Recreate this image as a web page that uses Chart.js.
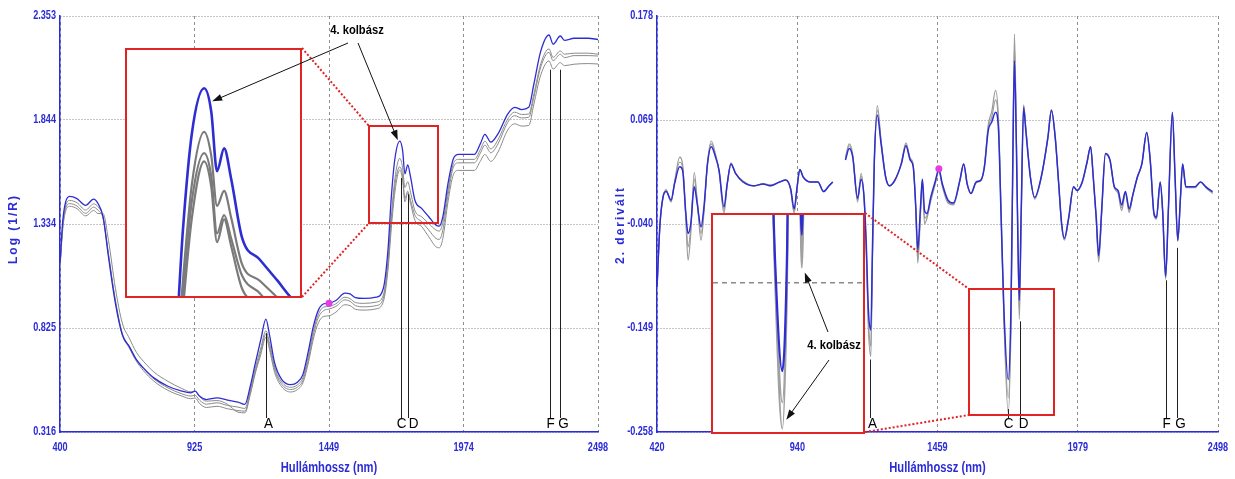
<!DOCTYPE html>
<html><head><meta charset="utf-8">
<script src="https://cdn.jsdelivr.net/npm/chart.js@4.4.0/dist/chart.umd.min.js"></script>
<style>
html,body{margin:0;padding:0;background:#fff;}
#wrap{position:relative;width:1235px;height:479px;overflow:hidden;background:#fff;}
#wrap canvas{position:absolute;}
.inset{position:absolute;background:#fff;border:2px solid #e02424;box-sizing:border-box;}
.inset canvas{left:0;top:0;}
</style></head><body>
<div id="wrap">
<canvas id="cL" width="620" height="479" style="left:0;top:0"></canvas>
<canvas id="cR" width="639" height="479" style="left:596px;top:0"></canvas>
<div class="inset" style="left:125px;top:48px;width:177px;height:250px"><canvas id="iL" width="173" height="246"></canvas></div>
<div class="inset" style="left:711px;top:213px;width:154px;height:221px"><canvas id="iR" width="150" height="217"></canvas></div>
<canvas id="ov" width="1235" height="479" style="left:0;top:0;pointer-events:none"></canvas>
</div>
<script>
// ---------------- LEFT PANEL DATA: Log(1/R) ----------------
const wlL = [400,411,422,438,466,500,531,548,568,589,616,643,670,698,725,766,821,875,910,927,944,971,1012,1053,1094,1121,1142,1162,1183,1203,1217,1237,1265,1299,1326,1347,1367,1388,1408,1429,1449,1476,1511,1531,1552,1586,1633,1661,1679,1692,1706,1725,1736,1745,1756,1767,1784,1811,1838,1866,1879,1893,1913,1934,1954,2016,2039,2057,2080,2108,2146,2173,2200,2228,2248,2275,2307,2323,2351,2367,2405,2460,2498];
const blueL = [1.142,1.353,1.443,1.470,1.459,1.426,1.456,1.435,1.369,1.174,0.947,0.792,0.735,0.670,0.630,0.581,0.540,0.516,0.508,0.516,0.492,0.475,0.483,0.472,0.462,0.451,0.540,0.654,0.768,0.869,0.792,0.654,0.573,0.548,0.560,0.597,0.703,0.833,0.914,0.944,0.947,0.960,0.996,0.992,0.974,0.970,0.976,1.020,1.207,1.467,1.654,1.740,1.695,1.580,1.624,1.565,1.451,1.410,1.370,1.329,1.324,1.370,1.532,1.654,1.675,1.675,1.727,1.773,1.735,1.776,1.873,1.906,1.895,1.906,2.020,2.182,2.260,2.215,2.255,2.234,2.244,2.244,2.238];
const gray1L = [1.134,1.337,1.423,1.450,1.439,1.403,1.433,1.419,1.369,1.190,0.963,0.800,0.735,0.670,0.627,0.576,0.532,0.503,0.492,0.496,0.472,0.452,0.459,0.446,0.438,0.431,0.520,0.630,0.727,0.812,0.751,0.634,0.560,0.535,0.547,0.581,0.679,0.809,0.894,0.928,0.931,0.944,0.976,0.969,0.950,0.946,0.952,0.987,1.150,1.369,1.556,1.656,1.610,1.513,1.542,1.490,1.400,1.369,1.337,1.305,1.300,1.341,1.499,1.630,1.651,1.651,1.698,1.740,1.702,1.747,1.849,1.882,1.871,1.873,1.971,2.120,2.192,2.150,2.182,2.166,2.171,2.171,2.166];
const gray2L = [1.126,1.324,1.410,1.434,1.423,1.387,1.417,1.402,1.361,1.182,0.955,0.792,0.727,0.662,0.617,0.565,0.520,0.492,0.479,0.483,0.456,0.436,0.442,0.430,0.421,0.418,0.507,0.613,0.711,0.796,0.735,0.621,0.549,0.524,0.536,0.568,0.662,0.792,0.878,0.911,0.918,0.931,0.963,0.956,0.935,0.929,0.935,0.971,1.134,1.345,1.524,1.615,1.570,1.460,1.495,1.450,1.378,1.345,1.305,1.264,1.259,1.305,1.475,1.613,1.634,1.634,1.681,1.721,1.683,1.727,1.832,1.865,1.854,1.857,1.955,2.104,2.175,2.134,2.166,2.149,2.159,2.159,2.157];
const gray3L = [1.118,1.312,1.397,1.421,1.410,1.374,1.401,1.386,1.385,1.255,1.020,0.849,0.776,0.706,0.663,0.610,0.564,0.529,0.513,0.516,0.489,0.467,0.470,0.452,0.413,0.410,0.499,0.605,0.695,0.780,0.719,0.608,0.537,0.512,0.524,0.556,0.646,0.771,0.852,0.882,0.885,0.903,0.939,0.935,0.917,0.913,0.919,0.955,1.109,1.313,1.491,1.599,1.550,1.443,1.487,1.435,1.353,1.321,1.272,1.223,1.218,1.264,1.443,1.576,1.597,1.597,1.642,1.675,1.641,1.687,1.795,1.825,1.814,1.817,1.922,2.065,2.133,2.093,2.125,2.110,2.117,2.120,2.118];
const xTicksL = [400,925,1449,1974,2498];
const xLabelsL = ['400','925','1449','1974','2498'];
const yTicksL = [0.316,0.825,1.334,1.844,2.353];
const yLabelsL = ['0.316','0.825','1.334','1.844','2.353'];
const markNamesL = ['A','C','D','F','G'];
const markWlL = [1203,1728,1757,2310,2351];
const markTopL = [0.800,1.560,1.480,2.090,2.090];
const pointL = [1449,0.947];
const zoomXL = [1605,1874];
const zoomYL = [1.339,1.814];
const arrowTargetL = [1725,1.740];

// ---------------- RIGHT PANEL DATA: 2nd derivative ----------------
const wlR = [420,431,442,454,472,485,504,515,526,535,545,558,569,583,594,607,621,637,650,668,680,694,711,739,779,813,840,874,897,915,928,939,949,962,989,1016,1037,1057,1071,1095,1118,1132,1145,1163,1176,1187,1195,1203,1212,1218,1225,1236,1250,1267,1281,1301,1325,1342,1358,1369,1378,1386,1396,1403,1411,1420,1434,1450,1464,1477,1498,1518,1542,1556,1569,1583,1602,1620,1633,1647,1660,1674,1685,1694,1705,1721,1731,1738,1744,1751,1757,1762,1769,1778,1786,1803,1819,1843,1868,1881,1895,1908,1919,1929,1945,1963,1976,1995,2013,2026,2036,2047,2056,2067,2081,2098,2114,2128,2141,2155,2169,2182,2199,2216,2234,2247,2261,2270,2284,2293,2304,2314,2329,2339,2349,2359,2367,2379,2413,2433,2453,2478];
const blueR = [-0.106,-0.040,-0.012,-0.006,-0.015,0.002,0.020,0.016,-0.026,-0.050,-0.040,-0.001,-0.019,-0.043,-0.022,0.023,0.041,0.030,0.016,-0.022,0.002,0.023,0.013,0.004,0.000,0.002,0.000,0.004,0.006,-0.003,-0.024,-0.001,0.017,0.009,0.004,0.004,-0.006,0.000,0.004,null,0.027,0.039,0.030,-0.013,0.007,-0.012,-0.060,-0.130,-0.151,-0.067,0.027,0.074,0.044,0.009,0.000,0.006,0.023,0.042,0.027,0.020,-0.019,-0.067,-0.022,0.007,-0.026,-0.029,-0.012,0.004,0.017,0.002,-0.015,-0.018,0.006,0.023,0.002,-0.008,0.004,0.006,0.020,0.058,0.067,0.077,0.058,-0.026,-0.130,-0.203,-0.130,0.027,0.131,0.044,-0.060,-0.120,-0.026,0.082,0.058,0.009,-0.012,0.009,0.051,0.079,0.051,0.002,-0.040,-0.055,-0.033,-0.001,-0.005,0.004,0.025,0.041,0.009,-0.033,-0.073,-0.026,0.034,0.027,-0.001,-0.005,-0.020,-0.006,-0.024,-0.010,0.009,0.023,0.056,0.027,-0.029,-0.033,0.004,-0.026,-0.095,-0.026,0.077,0.009,-0.057,-0.012,0.023,-0.001,-0.001,0.004,-0.001,-0.006];
const grayAR = [-0.110,-0.042,-0.013,-0.004,-0.017,0.004,0.030,0.022,-0.030,-0.078,-0.050,0.014,-0.015,-0.057,-0.028,0.024,0.047,0.033,0.015,-0.029,0.001,0.024,0.013,0.005,0.000,0.002,0.001,0.004,0.006,-0.004,-0.029,-0.002,0.017,0.009,0.004,0.004,-0.006,0.000,0.004,null,0.030,0.044,0.033,-0.017,0.013,-0.015,-0.070,-0.150,-0.179,-0.080,0.022,0.084,0.048,0.010,0.000,0.005,0.024,0.045,0.029,0.022,-0.022,-0.081,-0.030,0.005,-0.040,-0.034,-0.016,0.001,0.015,-0.001,-0.018,-0.020,0.005,0.023,0.001,-0.008,0.003,0.006,0.022,0.064,0.078,0.100,0.070,-0.020,-0.140,-0.238,-0.150,0.020,0.159,0.055,-0.055,-0.140,-0.040,0.085,0.062,0.010,-0.014,0.008,0.050,0.080,0.050,0.001,-0.042,-0.057,-0.034,-0.002,-0.004,0.003,0.024,0.041,0.008,-0.036,-0.080,-0.030,0.033,0.026,-0.002,-0.008,-0.026,-0.008,-0.028,-0.011,0.008,0.023,0.056,0.026,-0.031,-0.035,0.003,-0.028,-0.098,-0.028,0.076,0.008,-0.058,-0.013,0.022,-0.002,-0.002,0.004,-0.002,-0.008];
const grayBR = [-0.108,-0.041,-0.012,-0.005,-0.016,0.003,0.025,0.019,-0.028,-0.064,-0.045,0.007,-0.017,-0.050,-0.025,0.023,0.044,0.031,0.016,-0.026,0.002,0.023,0.013,0.004,0.000,0.002,0.000,0.004,0.006,-0.003,-0.027,-0.001,0.017,0.009,0.004,0.004,-0.006,0.000,0.004,null,0.028,0.042,0.031,-0.015,0.010,-0.013,-0.065,-0.140,-0.168,-0.072,0.025,0.079,0.046,0.009,0.000,0.006,0.023,0.043,0.028,0.021,-0.020,-0.075,-0.026,0.006,-0.034,-0.031,-0.014,0.003,0.016,0.001,-0.016,-0.019,0.006,0.023,0.002,-0.008,0.004,0.006,0.021,0.061,0.072,0.090,0.064,-0.023,-0.135,-0.222,-0.140,0.024,0.146,0.050,-0.058,-0.130,-0.033,0.084,0.060,0.010,-0.013,0.009,0.051,0.080,0.051,0.002,-0.041,-0.056,-0.034,-0.001,-0.005,0.004,0.025,0.041,0.009,-0.034,-0.077,-0.028,0.034,0.027,-0.001,-0.006,-0.023,-0.007,-0.026,-0.010,0.009,0.023,0.056,0.027,-0.030,-0.034,0.004,-0.027,-0.097,-0.027,0.077,0.009,-0.058,-0.012,0.023,-0.001,-0.001,0.004,-0.001,-0.007];
const xTicksR = [420,940,1459,1979,2498];
const xLabelsR = ['420','940','1459','1979','2498'];
const yTicksR = [-0.258,-0.149,-0.040,0.069,0.178];
const yLabelsR = ['-0.258','-0.149','-0.040','0.069','0.178'];
const markNamesR = ['A','C','D','F','G'];
const markWlR = [1210,1721,1765,2304,2345];
const markTopR = [-0.182,-0.234,-0.142,-0.099,-0.065];
const pointR = [1464,0.018];
const zoomXR = [1575,1891];
const zoomYR = [-0.240,-0.108];
const arrowTargetsR = [[1762,-0.140],[1721,-0.238]];

// sanity
[[wlL,blueL],[wlL,gray1L],[wlL,gray2L],[wlL,gray3L],[wlR,blueR],[wlR,grayAR],[wlR,grayBR]].forEach(([a,b],k)=>{ if(a.length!==b.length) throw new Error('length mismatch '+k+': '+a.length+' vs '+b.length); });

// ---------------- STYLE ----------------
const AXIS_BLUE = '#2b2bd8';
const CURVE_BLUE = '#2d2dd2';
const GRAY = '#8a8a8a';
const RED = '#e02424';
const GRID = '#8e8e8e';
const SANS = "'Liberation Sans','DejaVu Sans',Arial,sans-serif";

const pts = (xs, ys) => xs.map((x, i) => ({x, y: ys[i]}));

// text drawn horizontally condensed (narrow face look)
function narrowText(ctx, text, x, y, sx, align, font, color) {
  ctx.save();
  ctx.font = font;
  ctx.fillStyle = color;
  ctx.textAlign = align;
  ctx.textBaseline = 'middle';
  ctx.translate(x, y);
  ctx.scale(sx, 1);
  ctx.fillText(text, 0, 0);
  ctx.restore();
}

function series(xs, arrs, blueW, grayW, grayColor) {
  const ds = [{data: pts(xs, arrs[0]), borderColor: CURVE_BLUE, borderWidth: blueW}];
  for (let i = 1; i < arrs.length; i++) ds.push({data: pts(xs, arrs[i]), borderColor: grayColor, borderWidth: grayW});
  return ds;
}

const marksPlugin = {
  id: 'marks',
  afterDatasetsDraw(chart, args, o) {
    const {ctx, chartArea, scales: {x, y}} = chart;
    ctx.save();
    ctx.strokeStyle = '#202020';
    ctx.lineWidth = 1;
    const lines = o.wl.map(w => Math.round(x.getPixelForValue(w)) + 0.5);
    const centers = [];
    lines.forEach((px, i) => {
      let c = px + 2;
      if (i > 0 && px - lines[i - 1] < 14) {
        centers[i - 1] = Math.min(centers[i - 1], lines[i - 1]);
        c = Math.max(px + 3, centers[i - 1] + 12);
      }
      centers.push(c);
    });
    lines.forEach((px, i) => {
      const top = y.getPixelForValue(o.top[i]);
      ctx.beginPath();
      ctx.moveTo(px, top);
      ctx.lineTo(px, chartArea.bottom - 14);
      ctx.stroke();
    });
    ctx.restore();
    o.names.forEach((n, i) => narrowText(ctx, n, centers[i], chartArea.bottom - 8, 0.9, 'center', '15px ' + SANS, '#000'));
  },
  afterDraw(chart, args, o) {
    const {ctx, chartArea, scales: {x, y}} = chart;
    // tick labels
    const tf = 'bold 12px ' + SANS;
    o.yTicks.forEach((v, i) => narrowText(ctx, o.yLabels[i], chartArea.left - 4, y.getPixelForValue(v), 0.76, 'right', tf, AXIS_BLUE));
    o.xTicks.forEach((v, i) => narrowText(ctx, o.xLabels[i], x.getPixelForValue(v), chartArea.bottom + 16, 0.76, 'center', tf, AXIS_BLUE));
    // x title
    narrowText(ctx, 'Hullámhossz (nm)', (chartArea.left + chartArea.right) / 2, chartArea.bottom + 36, 0.8, 'center', 'bold 14px ' + SANS, AXIS_BLUE);
    // y title
    ctx.save();
    ctx.translate(o.titleX, o.titleY);
    ctx.rotate(-Math.PI / 2);
    ctx.fillStyle = AXIS_BLUE;
    ctx.font = 'bold 12px ' + SANS;
    ctx.letterSpacing = '2px';
    ctx.textAlign = 'center';
    ctx.textBaseline = 'middle';
    ctx.fillText(o.title, 0, 0);
    ctx.restore();
  }
};

function mainChart(id, xs, arrs, cfg) {
  const ds = series(xs, arrs, cfg.blueW, cfg.grayW, cfg.gray);
  ds.unshift({data: [{x: cfg.point[0], y: cfg.point[1]}], showLine: false, pointRadius: 3.5, pointBackgroundColor: '#e23ce2', pointBorderColor: '#e23ce2', borderWidth: 0});
  return new Chart(document.getElementById(id), {
    type: 'line',
    data: {datasets: ds},
    options: {
      responsive: false, animation: false, devicePixelRatio: 1,
      layout: {padding: {top: 16, right: cfg.padRight, bottom: 0, left: 0}},
      plugins: {legend: {display: false}, tooltip: {enabled: false},
        marks: {names: cfg.names, wl: cfg.wl, top: cfg.top, title: cfg.yTitle, titleX: cfg.titleX, titleY: cfg.titleY,
          xTicks: cfg.xTicks, xLabels: cfg.xLabels, yTicks: cfg.yTicks, yLabels: cfg.yLabels}},
      elements: {point: {radius: 0}, line: {cubicInterpolationMode: 'monotone', fill: false}},
      scales: {
        x: {type: 'linear', min: cfg.xTicks[0], max: cfg.xTicks[cfg.xTicks.length - 1],
          afterBuildTicks: s => { s.ticks = cfg.xTicks.map(v => ({value: v})); },
          afterFit: s => { s.height = 47; },
          ticks: {display: false},
          grid: {color: GRID, lineWidth: 1, drawTicks: false},
          border: {display: true, color: AXIS_BLUE, width: 1.5, dash: [3, 3]}
        },
        y: {type: 'linear', min: cfg.yTicks[0], max: cfg.yTicks[cfg.yTicks.length - 1],
          afterBuildTicks: s => { s.ticks = cfg.yTicks.map(v => ({value: v})); },
          afterFit: s => { s.width = cfg.yWidth; },
          ticks: {display: false},
          grid: {color: GRID, lineWidth: 1, drawTicks: false},
          border: {display: true, color: AXIS_BLUE, width: 1.5, dash: [1, 2]}
        }
      }
    },
    plugins: [marksPlugin]
  });
}

function insetChart(id, xs, arrs, cfg) {
  const ds = series(xs, arrs, cfg.blueW, cfg.grayW, cfg.gray);
  return new Chart(document.getElementById(id), {
    type: 'line',
    data: {datasets: ds},
    options: {
      responsive: false, animation: false, devicePixelRatio: 1,
      layout: {padding: 0},
      plugins: {legend: {display: false}, tooltip: {enabled: false}},
      elements: {point: {radius: 0}, line: {cubicInterpolationMode: 'monotone', fill: false}},
      scales: {
        x: {type: 'linear', display: false, min: cfg.zx[0], max: cfg.zx[1]},
        y: {type: 'linear', display: true, min: cfg.zy[0], max: cfg.zy[1],
          afterBuildTicks: s => { s.ticks = cfg.yTicks.filter(v => v > cfg.zy[0] && v < cfg.zy[1]).map(v => ({value: v})); },
          afterFit: s => { s.width = 0; },
          ticks: {display: false},
          grid: {color: '#8a8a8a', lineWidth: 1.5, drawTicks: false},
          border: {display: false, dash: [5, 4]}
        }
      }
    }
  });
}

const chL = mainChart('cL', wlL, [blueL, gray1L, gray2L, gray3L], {
  blueW: 1.3, grayW: 1, gray: GRAY, point: pointL, padRight: 22, yWidth: 60,
  xTicks: xTicksL, xLabels: xLabelsL, yTicks: yTicksL, yLabels: yLabelsL,
  names: markNamesL, wl: markWlL, top: markTopL, yTitle: 'Log (1/R)', titleX: 14, titleY: 229
});
const chR = mainChart('cR', wlR, [blueR, grayAR, grayBR], {
  blueW: 1.5, grayW: 1.2, gray: '#9a9a9a', point: pointR, padRight: 17, yWidth: 61,
  xTicks: xTicksR, xLabels: xLabelsR, yTicks: yTicksR, yLabels: yLabelsR,
  names: markNamesR, wl: markWlR, top: markTopR, yTitle: '2. derivált', titleX: 25, titleY: 225
});
const inL = insetChart('iL', wlL, [blueL, gray1L, gray2L, gray3L], {
  blueW: 2.6, grayW: 2.2, gray: '#7a7a7a', zx: zoomXL, zy: zoomYL, yTicks: yTicksL
});
const inR = insetChart('iR', wlR, [blueR, grayAR, grayBR], {
  blueW: 2.2, grayW: 2, gray: '#a0a0a0', zx: zoomXR, zy: zoomYR, yTicks: yTicksR
});

// ---------------- OVERLAY: zoom boxes, connectors, arrows, labels ----------------
const ov = document.getElementById('ov').getContext('2d');
function px(chart, offX, offY, xv, yv) {
  return [offX + chart.scales.x.getPixelForValue(xv), offY + chart.scales.y.getPixelForValue(yv)];
}
function arrow(x1, y1, x2, y2) {
  const a = Math.atan2(y2 - y1, x2 - x1), L = 10, W = 3.5;
  ov.save();
  ov.strokeStyle = '#111'; ov.fillStyle = '#111'; ov.lineWidth = 1;
  ov.beginPath(); ov.moveTo(x1, y1); ov.lineTo(x2 - L * Math.cos(a) * 0.8, y2 - L * Math.sin(a) * 0.8); ov.stroke();
  ov.beginPath();
  ov.moveTo(x2, y2);
  ov.lineTo(x2 - L * Math.cos(a) + W * Math.sin(a), y2 - L * Math.sin(a) - W * Math.cos(a));
  ov.lineTo(x2 - L * Math.cos(a) - W * Math.sin(a), y2 - L * Math.sin(a) + W * Math.cos(a));
  ov.closePath(); ov.fill();
  ov.restore();
}
function zoomBox(chart, offX, zx, zy, insetBox) {
  const [x1, y1] = px(chart, offX, 0, zx[0], zy[1]);
  const [x2, y2] = px(chart, offX, 0, zx[1], zy[0]);
  ov.save();
  ov.strokeStyle = RED; ov.lineWidth = 2;
  ov.strokeRect(Math.round(x1), Math.round(y1), Math.round(x2 - x1), Math.round(y2 - y1));
  ov.setLineDash([2, 2]);
  ov.beginPath();
  ov.moveTo(insetBox[2], insetBox[1]); ov.lineTo(Math.round(x1), Math.round(y1));
  ov.moveTo(insetBox[2], insetBox[3]); ov.lineTo(Math.round(x1), Math.round(y2));
  ov.stroke();
  ov.restore();
}
zoomBox(chL, 0, zoomXL, zoomYL, [125, 48, 302, 297]);
zoomBox(chR, 596, zoomXR, zoomYR, [711, 213, 865, 432]);

narrowText(ov, '4. kolbász', 357, 30, 0.86, 'center', 'bold 13px ' + SANS, '#000');
narrowText(ov, '4. kolbász', 834, 345, 0.86, 'center', 'bold 13px ' + SANS, '#000');

let t = px(inL, 127, 50, arrowTargetL[0], arrowTargetL[1]);
arrow(348, 43, t[0] + 8, t[1] + 13);
t = px(chL, 0, 0, arrowTargetL[0], arrowTargetL[1]);
arrow(358, 43, t[0] - 2, t[1] - 1);
t = px(inR, 713, 215, arrowTargetsR[0][0], arrowTargetsR[0][1]);
arrow(828, 332, t[0] + 3, t[1] + 5);
t = px(inR, 713, 215, arrowTargetsR[1][0], arrowTargetsR[1][1]);
arrow(829, 360, t[0] + 4, t[1] - 9);
</script>
</body></html>
